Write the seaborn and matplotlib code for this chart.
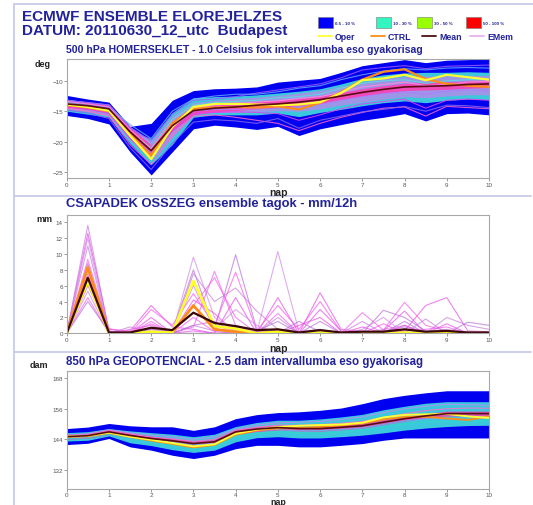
import matplotlib
matplotlib.use("Agg")
import matplotlib.pyplot as plt
import numpy as np
import pandas as pd
import seaborn as sns
from matplotlib.patches import Rectangle

sns.set_theme(style="white")
plt.rcParams['font.family'] = ['Liberation Sans', 'DejaVu Sans']

# ---------------------------------------------------------------- data
nap = [0, 0.5, 1, 1.5, 2, 2.5, 3, 3.5, 4, 4.5, 5, 5.5, 6, 6.5, 7, 7.5, 8, 8.5, 9, 9.5, 10]

# 500 hPa temperature (deg C)
t_blue_hi = [-12.4, -13.0, -13.5, -17.5, -17.0, -13.2, -11.6, -11.3, -11.2, -11.0, -10.2, -9.9, -9.6, -8.6, -7.5, -7.0, -6.5, -7.0, -6.6, -6.5, -6.4]
t_blue_lo = [-15.7, -16.2, -17.1, -21.7, -25.5, -21.7, -17.9, -17.3, -17.6, -18.0, -17.5, -19.0, -17.9, -17.2, -16.5, -16.0, -15.4, -16.6, -15.4, -15.3, -15.6]
t_cyan_hi = [-13.0, -13.5, -14.2, -18.3, -19.5, -15.2, -12.8, -12.6, -12.5, -12.3, -12.0, -11.7, -11.3, -10.5, -9.6, -9.0, -8.7, -8.6, -8.6, -8.5, -8.6]
t_cyan_lo = [-15.0, -15.5, -16.0, -20.3, -23.8, -20.5, -16.0, -15.6, -15.6, -15.6, -15.3, -15.9, -15.2, -14.7, -14.1, -13.6, -13.3, -13.6, -13.2, -13.0, -13.1]
t_lilac_hi = [-13.1, -13.4, -13.8, -17.5, -19.9, -15.8, -13.6, -13.2, -12.9, -12.7, -12.4, -12.0, -11.6, -10.9, -10.2, -9.6, -9.3, -9.2, -9.2, -9.1, -9.1]
t_lilac_lo = [-14.7, -15.1, -15.7, -19.8, -23.0, -19.4, -15.5, -15.2, -15.2, -15.1, -14.9, -15.0, -14.6, -14.0, -13.5, -13.0, -12.6, -12.8, -12.5, -12.3, -12.3]
t_core_hi = [-13.3, -13.6, -14.0, -17.6, -20.6, -16.6, -14.2, -13.9, -13.7, -13.4, -13.2, -12.9, -12.5, -11.9, -11.3, -10.8, -10.4, -10.3, -10.2, -10.0, -9.9]
t_core_lo = [-14.4, -14.7, -15.2, -19.2, -22.3, -18.3, -15.6, -15.1, -14.9, -14.6, -14.4, -14.1, -13.7, -13.1, -12.5, -12.0, -11.6, -11.5, -11.4, -11.2, -11.1]
t_mean = [-13.8, -14.1, -14.6, -18.4, -21.5, -17.4, -14.9, -14.5, -14.3, -14.0, -13.8, -13.5, -13.1, -12.5, -11.9, -11.4, -11.0, -10.9, -10.8, -10.6, -10.5]
t_oper = [-13.9, -14.3, -14.9, -19.0, -22.9, -17.6, -14.3, -13.8, -13.8, -13.9, -14.0, -13.9, -13.5, -12.0, -9.9, -9.6, -9.0, -9.9, -9.0, -9.4, -9.8]
t_ctrl = [-14.0, -14.4, -15.0, -18.8, -22.3, -17.0, -14.6, -14.4, -14.3, -14.4, -14.2, -14.7, -13.6, -11.9, -9.8, -8.5, -8.1, -9.7, -10.5, -10.8, -11.0]
t_members = {
    "m1": [-13.2, -13.6, -14.0, -17.8, -19.8, -15.5, -13.2, -13.0, -12.6, -12.0, -11.5, -11.0, -10.5, -9.5, -8.2, -7.8, -7.5, -8.0, -7.6, -7.5, -7.4],
    "m2": [-14.5, -15.0, -15.8, -20.5, -23.8, -19.0, -15.8, -15.6, -16.0, -16.5, -17.0, -18.2, -17.0, -16.0, -15.2, -14.5, -14.3, -15.8, -14.2, -14.4, -14.6],
    "m3": [-13.5, -14.0, -14.4, -17.2, -19.5, -15.0, -13.0, -12.5, -12.2, -12.2, -11.8, -11.2, -10.8, -9.8, -9.0, -8.4, -8.0, -8.2, -7.9, -7.8, -7.9],
    "m4": [-14.2, -14.6, -15.4, -19.5, -22.8, -18.2, -15.4, -15.2, -15.1, -15.2, -15.4, -16.5, -15.6, -14.6, -13.8, -13.4, -13.0, -14.5, -13.2, -13.0, -13.2],
    "m5": [-13.7, -14.2, -14.8, -18.6, -21.0, -16.4, -14.0, -13.6, -13.4, -13.2, -12.8, -12.6, -12.2, -11.2, -10.4, -10.0, -9.8, -10.4, -10.0, -9.8, -9.7],
    "m6": [-14.0, -14.3, -15.1, -19.0, -21.8, -17.6, -15.0, -14.7, -14.7, -14.6, -14.4, -14.3, -13.9, -13.2, -12.6, -12.1, -11.8, -12.2, -11.7, -11.5, -11.6],
    "m7": [-13.4, -13.8, -14.3, -18.0, -21.2, -16.8, -14.6, -14.0, -13.7, -13.5, -13.3, -12.9, -12.6, -11.9, -11.0, -10.6, -10.2, -10.8, -10.6, -10.2, -10.1],
    "m8": [-14.8, -15.3, -16.2, -21.0, -24.6, -20.3, -16.8, -16.4, -16.6, -17.0, -16.2, -17.8, -16.5, -15.8, -15.1, -14.7, -14.2, -15.0, -14.0, -14.1, -14.4],
}
t_member_colors = ["#9b59ff", "#ff66cc", "#66aaff", "#dd44ee", "#55e0e0", "#b07cff", "#ff88dd", "#8866ee"]

# 12-hour precipitation (mm)
p_mean = [0, 7.0, 0.1, 0.1, 0.7, 0.4, 2.6, 1.3, 0.9, 0.4, 0.5, 0.1, 0.4, 0.1, 0.2, 0.2, 0.5, 0.2, 0.3, 0.1, 0.1]
p_oper = [0, 6.5, 0.0, 0.0, 0.2, 0.1, 6.6, 0.9, 0.6, 0.0, 0.2, 0.0, 0.1, 0.0, 0.0, 0.0, 0.1, 0.0, 0.0, 0.0, 0.0]
p_ctrl = [0, 8.3, 0.0, 0.0, 0.1, 0.1, 3.5, 0.5, 0.2, 0.0, 0.1, 0.0, 0.0, 0.0, 0.0, 0.0, 0.0, 0.0, 0.0, 0.0, 0.0]
p_members = {
    "p01": [0, 13.6, 0.2, 0.0, 0.5, 0.0, 1.0, 0.3, 0.0, 0.0, 0.5, 0.2, 0.0, 0.0, 0.0, 0.3, 0.8, 0.2, 0.5, 0.1, 0.0],
    "p02": [0, 12.6, 0.5, 0.3, 3.5, 0.8, 0.5, 0.0, 0.2, 0.0, 0.0, 0.0, 5.1, 0.5, 0.2, 0.0, 0.3, 3.5, 4.5, 0.3, 0.2],
    "p03": [0, 12.0, 0.0, 0.0, 0.3, 0.0, 9.6, 2.0, 0.3, 0.1, 10.3, 0.2, 0.5, 0.0, 0.0, 0.5, 1.0, 0.0, 0.2, 0.0, 0.0],
    "p04": [0, 9.3, 0.3, 0.0, 1.5, 0.0, 0.8, 7.8, 1.0, 0.2, 0.3, 0.0, 0.0, 0.0, 2.6, 0.4, 3.9, 1.0, 0.3, 0.0, 0.0],
    "p05": [0, 8.8, 0.0, 0.2, 0.5, 0.2, 8.0, 0.5, 9.9, 0.5, 0.0, 1.5, 0.2, 0.0, 0.0, 2.9, 2.0, 0.3, 0.0, 0.2, 0.0],
    "p06": [0, 7.5, 0.1, 0.0, 3.0, 1.0, 5.0, 1.0, 7.7, 0.3, 3.5, 0.5, 4.0, 0.2, 0.3, 0.0, 0.0, 0.0, 0.0, 0.0, 0.0],
    "p07": [0, 6.2, 0.0, 0.8, 0.2, 0.0, 7.5, 4.0, 5.7, 2.8, 0.5, 0.0, 0.0, 0.0, 1.5, 0.0, 0.5, 0.0, 2.0, 1.0, 0.5],
    "p08": [0, 6.0, 0.6, 0.0, 2.0, 0.0, 0.3, 0.0, 4.5, 0.0, 4.5, 0.0, 3.0, 0.3, 0.0, 0.3, 2.8, 0.0, 0.0, 0.0, 0.0],
    "p09": [0, 5.3, 0.0, 0.0, 0.0, 0.0, 6.0, 0.5, 3.0, 1.0, 0.0, 0.3, 0.0, 0.0, 0.5, 2.0, 0.0, 0.2, 0.0, 0.0, 0.0],
    "p10": [0, 4.5, 0.0, 0.5, 1.0, 0.0, 3.5, 7.0, 2.0, 0.0, 2.5, 0.0, 0.0, 0.0, 0.0, 0.0, 0.3, 0.5, 0.8, 0.0, 0.0],
    "p11": [0, 4.0, 0.2, 0.0, 0.0, 0.0, 1.0, 1.5, 0.0, 0.3, 1.5, 0.0, 1.5, 0.0, 0.0, 0.0, 1.5, 0.0, 0.0, 1.4, 1.0],
    "p12": [0, 8.0, 0.0, 0.0, 0.2, 0.0, 2.0, 0.2, 1.0, 0.0, 0.0, 0.0, 0.0, 0.0, 0.0, 1.2, 0.0, 0.0, 0.3, 0.0, 0.0],
    "p13": [0, 11.0, 0.0, 0.3, 0.0, 0.0, 0.0, 0.0, 0.0, 0.0, 2.0, 0.0, 0.0, 0.0, 0.0, 0.0, 0.0, 1.8, 0.0, 0.0, 0.0],
    "p14": [0, 6.5, 0.0, 0.0, 1.2, 0.0, 4.2, 2.5, 0.0, 0.0, 0.0, 1.0, 2.0, 0.0, 0.8, 0.0, 1.0, 0.0, 1.2, 0.0, 0.0],
}
p_member_colors = ["#c77ddd", "#e94ee8", "#d08ae6", "#f060e8", "#b870d8", "#ff55ee", "#c77ddd",
                   "#e94ee8", "#d08ae6", "#f060e8", "#b870d8", "#ff55ee", "#c77ddd", "#e94ee8"]

# 850 hPa geopotential (dam)
g_blue_hi = [148.2, 148.8, 150.2, 149.3, 148.9, 148.9, 147.5, 148.9, 152.1, 153.7, 154.5, 154.8, 155.4, 156.3, 158.0, 160.0, 161.3, 162.3, 163.1, 163.1, 163.1]
g_blue_lo = [141.9, 142.4, 144.3, 141.0, 139.7, 137.7, 136.4, 137.7, 140.3, 141.6, 141.6, 141.0, 141.0, 141.6, 142.3, 143.6, 144.5, 144.5, 144.5, 144.5, 144.5]
g_cyan_hi = [146.6, 147.0, 148.2, 147.3, 146.6, 146.0, 145.0, 146.0, 149.0, 150.6, 151.5, 151.5, 152.0, 152.8, 153.8, 155.6, 157.0, 158.2, 158.8, 158.8, 158.8]
g_cyan_lo = [143.3, 143.6, 145.3, 142.6, 141.5, 139.9, 138.8, 139.7, 143.0, 144.6, 145.0, 144.5, 144.5, 145.0, 145.6, 146.5, 147.6, 148.4, 149.0, 149.4, 149.5]
g_core_hi = [146.0, 146.4, 147.9, 146.5, 145.3, 144.4, 143.3, 144.0, 147.9, 149.0, 149.6, 149.2, 149.2, 149.7, 150.3, 151.7, 153.1, 154.2, 155.1, 155.1, 155.1]
g_core_lo = [144.0, 144.4, 145.9, 144.5, 143.3, 142.4, 141.3, 142.0, 145.9, 147.0, 147.6, 147.2, 147.2, 147.7, 148.3, 149.7, 151.1, 152.2, 153.1, 153.1, 153.1]
g_mean = [145.0, 145.4, 146.9, 145.5, 144.3, 143.4, 142.3, 143.0, 146.9, 148.0, 148.6, 148.2, 148.2, 148.7, 149.3, 150.7, 152.1, 153.2, 154.1, 154.1, 154.1]
g_oper = [145.0, 145.3, 146.6, 145.0, 143.8, 142.5, 141.2, 142.0, 146.2, 147.8, 148.8, 149.3, 149.6, 149.8, 150.5, 152.6, 153.6, 153.8, 154.0, 153.0, 152.4]
g_ctrl = [145.0, 145.2, 146.5, 145.0, 143.5, 142.2, 140.8, 141.8, 145.8, 147.5, 148.3, 148.4, 148.8, 149.5, 150.3, 151.8, 152.8, 152.8, 152.2, 151.6, 153.0]
g_members = {
    "g1": [145.6, 146.1, 147.8, 146.5, 145.6, 145.0, 144.0, 145.0, 148.0, 149.6, 150.5, 150.7, 151.0, 151.8, 152.8, 154.5, 156.0, 157.0, 157.8, 157.6, 157.4],
    "g2": [144.2, 144.6, 146.0, 144.3, 143.0, 141.6, 140.2, 141.0, 145.0, 146.5, 147.0, 146.5, 146.3, 146.8, 147.6, 148.8, 150.0, 150.8, 151.0, 150.8, 151.2],
    "g3": [145.3, 145.8, 147.3, 146.0, 144.8, 144.2, 143.2, 144.0, 147.5, 148.8, 149.6, 149.5, 149.8, 150.3, 151.0, 152.5, 154.0, 155.3, 156.0, 156.3, 156.2],
    "g4": [144.6, 145.0, 146.3, 145.0, 143.8, 142.8, 141.8, 142.3, 146.2, 147.5, 147.8, 147.3, 147.4, 147.8, 148.4, 149.8, 151.2, 152.0, 151.8, 152.5, 152.8],
}
g_member_colors = ["#b98cf0", "#2fd8c8", "#ff6ccf", "#58b8f0"]

legend_boxes = [("0.5 - 10 %", "#0000ff"), ("10 - 30 %", "#33f5c0"), ("30 - 50 %", "#99ff00"), ("50 - 100 %", "#ff0000")]
legend_lines = [("Oper", "#ffff33"), ("CTRL", "#ff8c1a"), ("Mean", "#4a1010"), ("EMem", "#e8b0f0")]

# ---------------------------------------------------------------- layout
W, H = 533, 506
fig = plt.figure(figsize=(W / 100, H / 100), dpi=100, facecolor="white")
NAVY = "#22229a"


def px_rect(left, top, right, bottom):
    return [left / W, 1 - bottom / H, (right - left) / W, (bottom - top) / H]


def members_frame(members):
    rows = []
    for name, vals in members.items():
        for d, v in zip(nap, vals):
            rows.append({"nap": d, "value": v, "member": name})
    return pd.DataFrame(rows)


def style_axes(ax, ylim, yticks):
    ax.set_xlim(0, 10)
    ax.set_ylim(*ylim)
    ax.set_xticks(range(11))
    ax.set_yticks(yticks)
    ax.set_xlabel("")
    ax.set_ylabel("")
    ax.tick_params(axis="both", bottom=True, left=True, direction="out", length=2.0,
                   width=0.6, color="#8a8a8a", labelsize=4.5, labelcolor="#555555", pad=0.8)
    for s in ax.spines.values():
        s.set_color("#a8a8a8")
        s.set_linewidth(0.8)
    ax.set_facecolor("white")


# overlay in pixel coordinates for frame, titles and legend
ov = fig.add_axes([0, 0, 1, 1], zorder=0)
ov.set_xlim(0, W)
ov.set_ylim(H, 0)
ov.axis("off")
frame_kw = dict(color="#c9c9ec", lw=1.3)
ov.plot([14, 14], [5, H], **frame_kw)
ov.plot([14, W], [5, 5], **frame_kw)
ov.plot([14, 531], [197, 197], **frame_kw)
ov.plot([14, 531], [352.5, 352.5], **frame_kw)

ov.text(22, 17, "ECMWF ENSEMBLE ELOREJELZES", fontsize=11, fontweight="bold", color=NAVY, va="center", ha="left")
ov.text(22, 30.5, "DATUM: 20110630_12_utc  Budapest", fontsize=11, fontweight="bold", color=NAVY, va="center", ha="left")

box_x = [318, 376, 417, 466]
for (lab, col), bx in zip(legend_boxes, box_x):
    ov.add_patch(Rectangle((bx, 18), 15, 11, facecolor=col, edgecolor="#777777", lw=0.4))
    ov.text(bx + 17, 23.5, lab, fontsize=3.2, color=NAVY, va="center", ha="left", fontweight="bold")
line_x = [318, 371, 422, 470]
for (lab, col), lx in zip(legend_lines, line_x):
    ov.plot([lx, lx + 14], [37, 37], color=col, lw=1.3)
    ov.text(lx + 17, 37, lab, fontsize=6.3, fontweight="bold", color=NAVY, va="center", ha="left")

ov.text(66, 50, "500 hPa HOMERSEKLET - 1.0 Celsius fok intervallumba eso gyakorisag",
        fontsize=7.6, fontweight="bold", color=NAVY, va="center", ha="left")
ov.text(66, 204.5, "CSAPADEK OSSZEG ensemble tagok - mm/12h",
        fontsize=9.4, fontweight="bold", color=NAVY, va="center", ha="left")
ov.text(66, 361.5, "850 hPa GEOPOTENCIAL - 2.5 dam intervallumba eso gyakorisag",
        fontsize=8.3, fontweight="bold", color=NAVY, va="center", ha="left")

ov.text(43, 64, "deg", fontsize=6.5, fontweight="bold", color="#222222", va="center", ha="center")
ov.text(44, 219.5, "mm", fontsize=6.5, fontweight="bold", color="#222222", va="center", ha="center")
ov.text(38.5, 365.5, "dam", fontsize=6.5, fontweight="bold", color="#222222", va="center", ha="center")
ov.text(278, 192.5, "nap", fontsize=7.5, fontweight="bold", color="#222222", va="center", ha="center")
ov.text(278, 348.5, "nap", fontsize=7.5, fontweight="bold", color="#222222", va="center", ha="center")
ov.text(278, 498.0, "nap", fontsize=6.4, fontweight="bold", color="#222222", va="top", ha="center")

# ---------------------------------------------------------------- panel 1: temperature
ax1 = fig.add_axes(px_rect(66.7, 60, 489, 179), zorder=2)
ax1.fill_between(nap, t_blue_lo, t_blue_hi, color="#0000f0", lw=0)
ax1.fill_between(nap, t_cyan_lo, t_cyan_hi, color="#3cc8dc", lw=0)
ax1.fill_between(nap, t_lilac_lo, t_lilac_hi, color="#a890e8", lw=0, alpha=0.9)
sns.lineplot(data=members_frame(t_members), x="nap", y="value", hue="member",
             palette=t_member_colors, estimator=None, lw=0.8, alpha=0.85, legend=False, ax=ax1)
ax1.fill_between(nap, t_core_lo, t_core_hi, color="#ff3cb0", lw=0, alpha=0.85)
sns.lineplot(x=nap, y=t_ctrl, color="#ff8c1a", lw=1.6, ax=ax1)
sns.lineplot(x=nap, y=t_oper, color="#ffff33", lw=1.6, ax=ax1)
sns.lineplot(x=nap, y=t_mean, color="#5a0c12", lw=1.2, ax=ax1)
style_axes(ax1, (-26, -6.4), [-25, -20, -15, -10])

# ---------------------------------------------------------------- panel 2: precipitation
ax2 = fig.add_axes(px_rect(66.7, 216, 489, 334.3), zorder=2)
sns.lineplot(data=members_frame(p_members), x="nap", y="value", hue="member",
             palette=p_member_colors, estimator=None, lw=0.8, alpha=0.7, legend=False, ax=ax2)
sns.lineplot(x=nap, y=p_ctrl, color="#ff8c1a", lw=2.0, ax=ax2)
sns.lineplot(x=nap, y=p_oper, color="#ffff22", lw=1.8, ax=ax2)
sns.lineplot(x=nap, y=p_mean, color="#3a0808", lw=1.6, ax=ax2)
style_axes(ax2, (0, 14.9), [0, 2, 4, 6, 8, 10, 12, 14])

# ---------------------------------------------------------------- panel 3: geopotential
ax3 = fig.add_axes(px_rect(66.7, 371.7, 489, 490), zorder=2)
ax3.fill_between(nap, g_blue_lo, g_blue_hi, color="#0000f0", lw=0)
ax3.fill_between(nap, g_cyan_lo, g_cyan_hi, color="#3cc8dc", lw=0)
sns.lineplot(data=members_frame(g_members), x="nap", y="value", hue="member",
             palette=g_member_colors, estimator=None, lw=0.8, alpha=0.85, legend=False, ax=ax3)
ax3.fill_between(nap, g_core_lo, g_core_hi, color="#ff3cb0", lw=0, alpha=0.8)
sns.lineplot(x=nap, y=g_ctrl, color="#ff8c1a", lw=1.4, ax=ax3)
sns.lineplot(x=nap, y=g_oper, color="#ffff33", lw=1.4, ax=ax3)
sns.lineplot(x=nap, y=g_mean, color="#5a0c12", lw=1.2, ax=ax3)
style_axes(ax3, (124.4, 171), [132, 144, 156, 168])
ax3.tick_params(axis="x", pad=0.3)

fig.savefig("out.png", dpi=100, facecolor="white")
